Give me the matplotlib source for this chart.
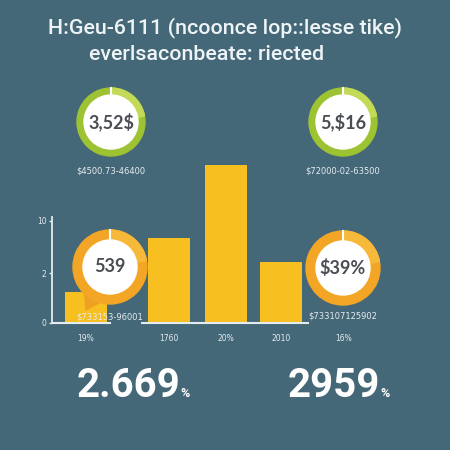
import matplotlib.pyplot as plt
from matplotlib.patches import Circle, Wedge, Polygon

# chart data
categories = ['19%', '1760', '20%', '2010', '16%']
values = [3.0, 8.3, 15.5, 6.0, 0]
y_ticks = [0, 4.9, 10]
y_labels = ['0', '2', '10']

circle_values = ['3,52$', '5,$16', '539', '$39%']
circle_notes = ['$4500.73-46400', '$72000-02-63500', '$733153-96001', '$733107125902']
big_numbers = ['2.669', '2959']

title1 = 'H:Geu-6111 (ncoonce lop::lesse tike)'
title2 = 'everlsaconbeate: riected'

bg = '#456878'
bar_color = '#f8bf20'
light = '#e4ecef'
dark_text = '#4a4e54'

fig = plt.figure(figsize=(4.5, 4.5), dpi=100)
fig.patch.set_facecolor(bg)

# bar axes; x data in pixel units so category spacing matches the picture
xpos = [86, 169, 226, 281, 344]
left, right, bottom, top = 52, 380, 323, 150
ax = fig.add_axes([left / 450, (450 - bottom) / 450, (right - left) / 450, (bottom - top) / 450])
ax.set_facecolor('none')
ax.bar(xpos, values, width=42, color=bar_color, zorder=2)
ax.set_xlim(left, right)
ax.set_ylim(0, 10 * (bottom - top) / (bottom - 221))
for s in ['top', 'right', 'bottom']:
    ax.spines[s].set_visible(False)
ax.spines['left'].set_color(light)
ax.spines['left'].set_linewidth(1.3)
ax.spines['left'].set_bounds(0, 10.4)
ax.set_yticks(y_ticks, y_labels)
ax.set_xticks(xpos, categories)
ax.tick_params(axis='y', colors=light, labelsize=5.5, length=2, width=1, pad=2)
ax.tick_params(axis='x', colors=light, labelsize=5.5, length=0, pad=8)
ax.plot([52, 110], [0, 0], color=light, lw=1.5, clip_on=False, zorder=3)
ax.plot([142, 308], [0, 0], color=light, lw=1.5, clip_on=False, zorder=3)

# overlay in pixel coordinates
ov = fig.add_axes([0, 0, 1, 1])
ov.set_xlim(0, 450)
ov.set_ylim(450, 0)
ov.axis('off')
ov.set_facecolor('none')

ov.text(225, 28, title1, ha='center', va='center', fontsize=15.4, color='#eef3f5',
        family='Roboto', fontweight='medium')
ov.text(207, 54, title2, ha='center', va='center', fontsize=15.4, color='#eef3f5',
        family='Roboto', fontweight='medium')

centers = [(111, 122), (343, 122), (110, 267), (343, 268)]
rings = [('#9dc232', '#c2da58'), ('#9dc232', '#c2da58'),
         ('#f3a526', '#f7b93a'), ('#f3a526', '#f7b93a')]
radii = [34, 34, 37, 37]
note_y = [171, 171, 317, 316]

# pin tail of the lower left marker
ov.add_patch(Polygon([(84, 288), (104, 300), (86, 310)], closed=True,
                     color='#eea022', zorder=1))

for (cx, cy), (c1, c2), r, val, note, ny in zip(centers, rings, radii, circle_values,
                                                circle_notes, note_y):
    ov.add_patch(Wedge((cx, cy), r, 0, 360, width=r - 27, color=c1, zorder=2))
    ov.add_patch(Wedge((cx, cy), r, 270, 350, width=r - 27, color=c2, zorder=2))
    ov.add_patch(Circle((cx, cy), 27, color='white', zorder=3))
    ov.plot([cx, cx], [cy - r, cy - 26], color='white', lw=1.5, zorder=4)
    ov.text(cx, cy, val, ha='center', va='center', fontsize=13, color=dark_text,
            family='Lato', fontweight='bold', zorder=5)
    ov.text(cx, ny, note, ha='center', va='center', fontsize=6, color=light, zorder=5)

for x0, num in zip([77, 288], big_numbers):
    t = ov.text(x0, 397, num, ha='left', va='baseline', fontsize=29, color='white',
                family='Roboto', fontweight='bold')
    fig.canvas.draw()
    bb = t.get_window_extent()
    ov.text(bb.x1, 397, '%', ha='left', va='baseline', fontsize=9, color='white',
            family='Roboto', fontweight='bold')

fig.savefig('out.png', dpi=100, facecolor=bg)
